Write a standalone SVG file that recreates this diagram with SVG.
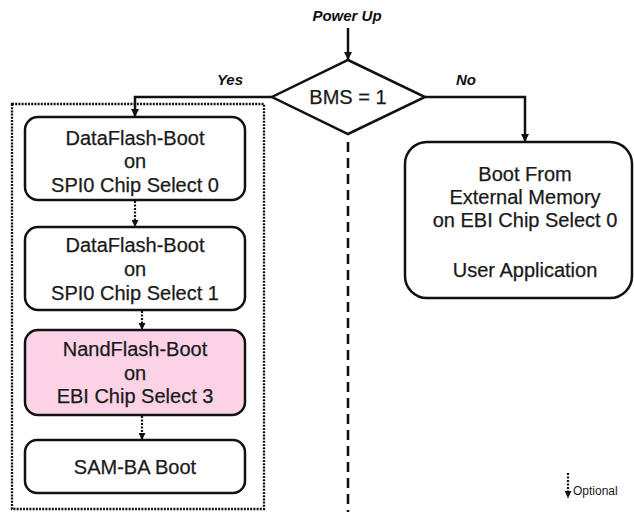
<svg xmlns="http://www.w3.org/2000/svg" width="634" height="512" viewBox="0 0 634 512">
  <defs>
    <marker id="head" viewBox="0 0 10 10" refX="10" refY="5" markerWidth="8" markerHeight="8" markerUnits="userSpaceOnUse" orient="auto">
      <path d="M0,0 L10,5 L0,10 Z" fill="#111"/>
    </marker>
    <marker id="headSmall" viewBox="0 0 10 10" refX="10" refY="5" markerWidth="7" markerHeight="7" markerUnits="userSpaceOnUse" orient="auto">
      <path d="M0,0 L10,5 L0,10 Z" fill="#111"/>
    </marker>
    <style>
      .box { fill: #ffffff; stroke: #111; stroke-width: 2.5; }
      .pink { fill: #fcd3e6; }
      .lbl { font-family: "Liberation Sans", Arial, sans-serif; font-size: 20px; fill: #1a1a1a; text-anchor: middle; stroke: #1a1a1a; stroke-width: 0.25; }
      .tag { font-family: "Liberation Sans", Arial, sans-serif; font-size: 15px; font-weight: bold; font-style: italic; fill: #111; text-anchor: middle; }
      .small { font-family: "Liberation Sans", Arial, sans-serif; font-size: 12px; fill: #1a1a1a; }
      .solid { fill: none; stroke: #111; stroke-width: 2.5; }
      .dotted { fill: none; stroke: #111; stroke-width: 2.2; stroke-dasharray: 2 1.5; }
      .frame { fill: none; stroke: #111; stroke-width: 2.3; stroke-dasharray: 2 1.2; }
      .split { fill: none; stroke: #111; stroke-width: 2.6; stroke-dasharray: 10 6; }
    </style>
  </defs>

  <!-- optional boot sequence enclosure -->
  <rect class="frame" x="12" y="104" width="252" height="405"/>

  <!-- boundary between the two boot branches -->
  <line class="split" x1="348" y1="142" x2="348" y2="512"/>

  <text class="tag" x="347" y="21">Power Up</text>
  <text class="tag" x="230" y="85">Yes</text>
  <text class="tag" x="466" y="85">No</text>

  <g id="connectors">
    <line class="solid" x1="348" y1="28" x2="348" y2="60" marker-end="url(#head)"/>
    <polyline class="solid" points="272,97 135,97 135,117" marker-end="url(#head)"/>
    <polyline class="solid" points="425,97 525,97 525,142" marker-end="url(#head)"/>
    <line class="dotted" x1="135" y1="201" x2="135" y2="227" marker-end="url(#headSmall)"/>
    <line class="dotted" x1="142" y1="311" x2="142" y2="330" marker-end="url(#headSmall)"/>
    <line class="dotted" x1="142" y1="416" x2="142" y2="440" marker-end="url(#headSmall)"/>
  </g>

  <g id="bms">
    <polygon class="box" points="348,60 425,97 348,134 272,97"/>
    <text class="lbl" x="348" y="104">BMS = 1</text>
  </g>

  <g id="dataflash-cs0">
    <rect class="box" x="25" y="117" width="220" height="83" rx="13"/>
    <text class="lbl" x="135" y="145">DataFlash-Boot</text>
    <text class="lbl" x="135" y="168">on</text>
    <text class="lbl" x="135" y="192">SPI0 Chip Select 0</text>
  </g>

  <g id="dataflash-cs1">
    <rect class="box" x="25" y="227" width="220" height="83" rx="13"/>
    <text class="lbl" x="135" y="252">DataFlash-Boot</text>
    <text class="lbl" x="135" y="276">on</text>
    <text class="lbl" x="135" y="300">SPI0 Chip Select 1</text>
  </g>

  <g id="nandflash-cs3">
    <rect class="box pink" x="25" y="330" width="220" height="85" rx="13"/>
    <text class="lbl" x="135" y="356">NandFlash-Boot</text>
    <text class="lbl" x="135" y="380">on</text>
    <text class="lbl" x="135" y="403">EBI Chip Select 3</text>
  </g>

  <g id="samba">
    <rect class="box" x="25" y="440" width="220" height="53" rx="12"/>
    <text class="lbl" x="135" y="474">SAM-BA Boot</text>
  </g>

  <g id="external-memory">
    <rect class="box" x="405" y="142" width="227" height="156" rx="22"/>
    <text class="lbl" x="525" y="181">Boot From</text>
    <text class="lbl" x="525" y="204">External Memory</text>
    <text class="lbl" x="525" y="227">on EBI Chip Select 0</text>
    <text class="lbl" x="525" y="277">User Application</text>
  </g>

  <g id="legend">
    <line class="dotted" x1="568" y1="473" x2="568" y2="498" marker-end="url(#headSmall)"/>
    <text class="small" x="573" y="495">Optional</text>
  </g>
</svg>
